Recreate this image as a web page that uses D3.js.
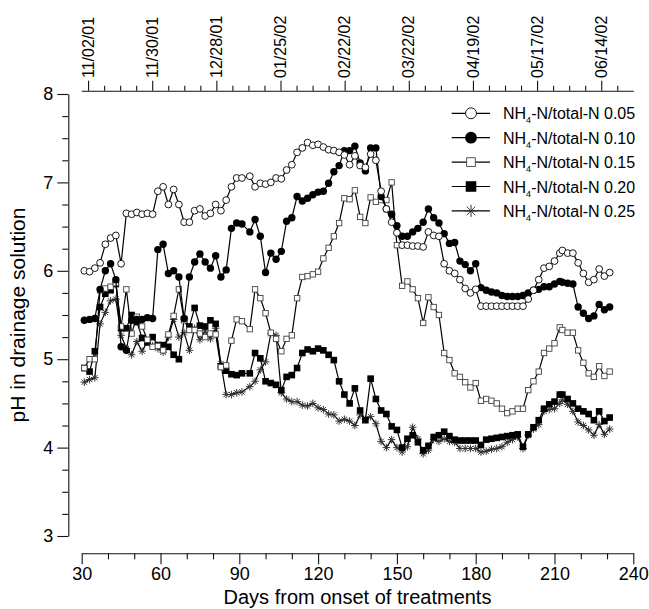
<!DOCTYPE html>
<html>
<head>
<meta charset="utf-8">
<script src="https://cdn.jsdelivr.net/npm/d3@7"></script>
<style>
body { margin: 0; background: #fff; }
svg { display: block; }
text { font-family: "Liberation Sans", Arial, sans-serif; }
</style>
</head>
<body>
<svg></svg>
<script>
var w = 649, h = 609

// days from onset of treatments
var days = [31, 33, 35, 37, 39, 41, 43, 45, 47, 49,
    51, 53, 55, 57, 59, 61, 63, 65, 67, 69,
    71, 73, 75, 77, 79, 81, 83, 85, 87, 89,
    91, 94, 96, 98, 100, 102, 104, 106, 108, 110,
    112, 114, 116, 118, 120, 122, 124, 126, 128, 130,
    132, 134, 136, 138, 140, 142, 144, 146, 148, 150,
    152, 154, 156, 158, 160, 162, 164, 166, 168, 170,
    172, 174, 176, 178, 180, 182, 184, 186, 188, 190,
    192, 194, 196, 198, 200, 202, 204, 206, 208, 210,
    212, 213, 215, 217, 219, 221, 223, 225, 227, 229,
    231]

var ph05 = [6.00, 5.99, 6.03, 6.09, 6.30, 6.37, 6.40, 6.08, 6.65, 6.64,
    6.66, 6.64, 6.65, 6.64, 6.90, 6.95, 6.75, 6.92, 6.75, 6.55,
    6.55, 6.68, 6.70, 6.62, 6.65, 6.75, 6.68, 6.80, 6.95, 7.05,
    7.05, 7.07, 6.95, 6.99, 6.98, 7.00, 7.05, 7.04, 7.14, 7.20,
    7.34, 7.39, 7.45, 7.42, 7.43, 7.40, 7.37, 7.36, 7.34, 7.31,
    7.20, 7.30, 7.19, 7.17, 7.32, 7.25, 6.90, 6.70, 6.55, 6.43,
    6.29, 6.29, 6.28, 6.28, 6.27, 6.44, 6.40, 6.39, 6.08, 6.00,
    5.97, 5.90, 5.80, 5.75, 5.79, 5.60, 5.60, 5.60, 5.60, 5.60,
    5.60, 5.60, 5.60, 5.60, 5.68, 5.78, 5.90, 6.03, 6.05, 6.11,
    6.20, 6.23, 6.20, 6.20, 6.09, 5.97, 5.87, 5.90, 6.02, 5.94,
    5.98]

var ph10 = [5.44, 5.45, 5.46, 5.79, 6.00, 6.08, 5.90, 5.14, 5.10, 5.44,
    5.45, 5.45, 5.47, 5.46, 6.24, 6.30, 5.97, 6.00, 5.93, 5.46,
    5.93, 6.10, 6.19, 6.10, 6.03, 6.17, 5.93, 6.01, 6.48, 6.54,
    6.53, 6.44, 6.58, 6.39, 5.98, 6.20, 6.13, 6.22, 6.56, 6.60,
    6.84, 6.79, 6.82, 6.86, 6.89, 6.90, 6.99, 7.12, 7.19, 7.36,
    7.36, 7.41, 7.22, 7.13, 7.39, 7.39, 6.84, 6.70, 6.64, 6.51,
    6.39, 6.39, 6.44, 6.48, 6.55, 6.70, 6.60, 6.54, 6.42, 6.31,
    6.32, 6.11, 6.07, 6.00, 6.08, 5.81, 5.78, 5.76, 5.75, 5.72,
    5.71, 5.71, 5.71, 5.72, 5.75, 5.78, 5.79, 5.82, 5.82, 5.85,
    5.88, 5.87, 5.86, 5.85, 5.59, 5.52, 5.46, 5.49, 5.62, 5.56,
    5.59]

var ph15 = [4.90, 5.00, 5.00, 5.78, 5.80, 5.82, 5.86, 5.37, 5.79, 5.29,
    5.48, 5.37, 5.22, 5.14, 5.15, 5.10, 5.28, 5.49, 5.79, 5.44,
    5.33, 5.33, 5.29, 5.25, 5.29, 5.28, 4.91, 4.93, 5.21, 5.45,
    5.43, 5.34, 5.79, 5.69, 5.52, 5.30, 5.23, 5.09, 5.23, 5.27,
    5.69, 5.93, 5.94, 5.96, 5.99, 6.14, 6.26, 6.39, 6.54, 6.82,
    6.81, 6.91, 6.61, 6.54, 6.83, 6.78, 6.80, 6.80, 7.00, 6.29,
    5.83, 5.88, 5.79, 5.69, 5.41, 5.70, 5.59, 5.50, 5.07, 4.99,
    4.84, 4.80, 4.74, 4.68, 4.73, 4.53, 4.55, 4.53, 4.50, 4.44,
    4.39, 4.41, 4.44, 4.44, 4.65, 4.75, 4.86, 5.07, 5.12, 5.18,
    5.36, 5.33, 5.30, 5.30, 5.10, 4.96, 4.84, 4.80, 4.92, 4.81,
    4.86]

var ph20 = [4.90, 4.86, 5.09, 5.59, 5.74, 5.78, 5.85, 5.35, 5.35, 5.50,
    5.42, 5.24, 5.19, 5.25, 5.16, 5.16, 5.14, 5.05, 5.00, 5.45,
    5.37, 5.58, 5.38, 5.37, 5.44, 5.40, 4.92, 4.87, 4.83, 4.82,
    4.84, 4.84, 5.07, 5.01, 4.75, 4.73, 4.71, 4.65, 4.80, 4.82,
    4.90, 5.07, 5.11, 5.09, 5.12, 5.10, 5.05, 4.99, 4.75, 4.60,
    4.50, 4.67, 4.42, 4.31, 4.78, 4.55, 4.42, 4.38, 4.24, 4.20,
    4.00, 4.10, 4.14, 4.06, 3.97, 4.02, 4.12, 4.14, 4.18, 4.13,
    4.09, 4.08, 4.08, 4.08, 4.08, 4.03, 4.09, 4.10, 4.11, 4.12,
    4.13, 4.14, 4.15, 4.01, 4.15, 4.23, 4.31, 4.44, 4.49, 4.52,
    4.60, 4.60, 4.55, 4.50, 4.44, 4.41, 4.38, 4.31, 4.41, 4.30,
    4.34]

var ph25 = [4.74, 4.77, 4.79, 5.40, 5.53, 5.66, 5.68, 5.27, 5.12, 5.05,
    5.20, 5.09, 5.20, 5.15, 5.12, 5.08, 5.25, 5.45, 5.25, 5.30,
    5.10, 5.35, 5.22, 5.32, 5.23, 5.35, 4.95, 4.60, 4.60, 4.62,
    4.63, 4.69, 4.75, 4.88, 4.97, 5.29, 5.27, 4.62, 4.55, 4.52,
    4.52, 4.48, 4.47, 4.50, 4.45, 4.43, 4.38, 4.37, 4.30, 4.32,
    4.30, 4.25, 4.37, 4.32, 4.35, 4.27, 4.07, 4.00, 4.09, 4.00,
    3.95, 4.01, 4.23, 4.10, 3.93, 3.97, 4.09, 4.07, 4.10, 4.07,
    4.06, 3.99, 3.99, 3.99, 3.99, 3.95, 3.96, 3.98, 3.99, 4.01,
    4.06, 4.09, 4.12, 3.99, 4.14, 4.21, 4.26, 4.41, 4.43, 4.44,
    4.50, 4.54, 4.49, 4.41, 4.29, 4.25, 4.20, 4.14, 4.26, 4.15,
    4.21]

var ratios = ["0.05", "0.10", "0.15", "0.20", "0.25"]
var markers = ["opencircle", "circle", "opensquare", "square", "star"]
var xTicks = [30, 60, 90, 120, 150, 180, 210, 240]
var yTicks = [3, 4, 5, 6, 7, 8]
var dateLabels = ["11/02/01", "11/30/01", "12/28/01", "01/25/02", "02/22/02",
    "03/22/02", "04/19/02", "05/17/02", "06/14/02"]

var allSeries = [ph05, ph10, ph15, ph20, ph25]

var svg = d3.select("svg")
    .attr("width", w)
    .attr("height", h)

var x = d3.scaleLinear().domain([30, 240]).range([81.7, 633.3])
var y = d3.scaleLinear().domain([3, 8]).range([536, 94])

var parseDate = d3.utcParse("%m/%d/%y")
var topDates = dateLabels.map(parseDate)
var xTop = d3.scaleUtc()
    .domain([d3.utcDay.offset(topDates[0], -3), d3.utcDay.offset(topDates[8], 14)])
    .range([81.2, 633.3])

function styleAxis(g, size)
{
    g.attr("font-size", size)
        .attr("font-family", "'Liberation Sans', Arial, sans-serif")
    g.selectAll("path, line").attr("stroke", "#111").attr("stroke-width", 1.1)
    g.selectAll("text").attr("fill", "#000")
}

// bottom axis
var minorX = d3.range(30, 241, 10).filter(function(d) { return d % 30 != 0 })
svg.append("g")
    .attr("transform", "translate(0,553.3)")
    .call(d3.axisBottom(x).tickValues(minorX).tickSize(6).tickFormat(""))
    .call(styleAxis, 18)
    .select(".domain").remove()
svg.append("g")
    .attr("transform", "translate(0,553.3)")
    .call(d3.axisBottom(x).tickValues(xTicks).tickSize(11).tickSizeOuter(0).tickPadding(3))
    .call(styleAxis, 18)

// left axis
var minorY = d3.range(3, 8.001, 0.25).filter(function(d) { return d % 1 != 0 })
svg.append("g")
    .attr("transform", "translate(68.3,0)")
    .call(d3.axisLeft(y).tickValues(minorY).tickSize(6).tickFormat(""))
    .call(styleAxis, 18)
    .select(".domain").remove()
svg.append("g")
    .attr("transform", "translate(68.3,0)")
    .call(d3.axisLeft(y).tickValues(yTicks).tickFormat(d3.format("d"))
        .tickSize(11).tickSizeOuter(0).tickPadding(4))
    .call(styleAxis, 18)

// top date axis
var minorTop = d3.utcDay.range(topDates[0], d3.utcDay.offset(topDates[8], 8), 7)
    .filter(function(d) { return Math.round((d - topDates[0]) / 864e5) % 28 != 0 })
svg.append("g")
    .attr("transform", "translate(0,90.7)")
    .call(d3.axisTop(xTop).tickValues(minorTop).tickSize(5).tickFormat(""))
    .call(styleAxis, 16)
    .select(".domain").remove()
svg.append("g")
    .attr("transform", "translate(0,90.7)")
    .call(d3.axisTop(xTop).tickValues(topDates).tickSize(10).tickSizeOuter(0).tickFormat(""))
    .call(styleAxis, 16)

svg.selectAll(".toplab")
    .data(topDates)
    .enter().append("text")
    .attr("class", "toplab")
    .attr("transform", function(d) { return "translate(" + xTop(d) + ",78) rotate(-90)" })
    .attr("dy", "0.35em")
    .attr("font-size", 16)
    .text(function(d, i) { return dateLabels[i] })

// axis titles
svg.append("text")
    .attr("x", (81.7 + 633.3) / 2)
    .attr("y", 604)
    .attr("text-anchor", "middle")
    .attr("font-size", 20)
    .text("Days from onset of treatments")

svg.append("text")
    .attr("transform", "translate(25," + ((94 + 536) / 2) + ") rotate(-90)")
    .attr("text-anchor", "middle")
    .attr("font-size", 21)
    .text("pH in drainage solution")

// markers
function drawMarker(g, type, cx, cy, k)
{
    if (type == "opencircle")
        g.append("circle").attr("cx", cx).attr("cy", cy).attr("r", 3.4 * k)
            .attr("fill", "#fff").attr("stroke", "#000").attr("stroke-width", 0.9)
    else if (type == "circle")
        g.append("circle").attr("cx", cx).attr("cy", cy).attr("r", 3.7 * k)
            .attr("fill", "#000")
    else if (type == "opensquare") {
        var s = 5.4 * k
        g.append("rect").attr("x", cx - s / 2).attr("y", cy - s / 2)
            .attr("width", s).attr("height", s)
            .attr("fill", "#fff").attr("stroke", "#444").attr("stroke-width", 0.9)
    }
    else if (type == "square") {
        var s2 = 6.6 * k
        g.append("rect").attr("x", cx - s2 / 2).attr("y", cy - s2 / 2)
            .attr("width", s2).attr("height", s2)
            .attr("fill", "#000")
    }
    else {
        var r = 3.8 * k
        var d = ""
        for (var a = 0; a < 4; a++) {
            var t = a * Math.PI / 4
            var dx = r * Math.cos(t), dy = r * Math.sin(t)
            d += "M" + (cx - dx) + "," + (cy - dy) + "L" + (cx + dx) + "," + (cy + dy)
        }
        g.append("path").attr("d", d).attr("stroke", "#333").attr("stroke-width", 1)
            .attr("fill", "none")
    }
}

var line = d3.line()
    .x(function(d) { return x(d[0]) })
    .y(function(d) { return y(d[1]) })

// draw from the last series to the first so 0.05 sits on top
for (var i = allSeries.length - 1; i >= 0; i--) {
    var pts = days.map(function(d, j) { return [d, allSeries[i][j]] })
    var g = svg.append("g").attr("class", "series")
    g.append("path")
        .attr("d", line(pts))
        .attr("fill", "none")
        .attr("stroke", "#000")
        .attr("stroke-width", 1.2)
    pts.forEach(function(p) { drawMarker(g, markers[i], x(p[0]), y(p[1]), 1) })
}

// legend
var legend = svg.append("g").attr("class", "legend")
ratios.forEach(function(r, i) {
    var ly = 113.3 + i * 24.4
    legend.append("line")
        .attr("x1", 451.7).attr("x2", 490)
        .attr("y1", ly).attr("y2", ly)
        .attr("stroke", "#000").attr("stroke-width", 1.2)
    drawMarker(legend, markers[i], 471, ly, 1.6)
    var t = legend.append("text")
        .attr("x", 503)
        .attr("y", ly + 6)
        .attr("font-size", 16)
    t.append("tspan").text("NH")
    t.append("tspan").attr("font-size", 9).attr("dy", 4).text("4")
    t.append("tspan").attr("dy", -4).text("-N/total-N " + r)
})
</script>
</body>
</html>
